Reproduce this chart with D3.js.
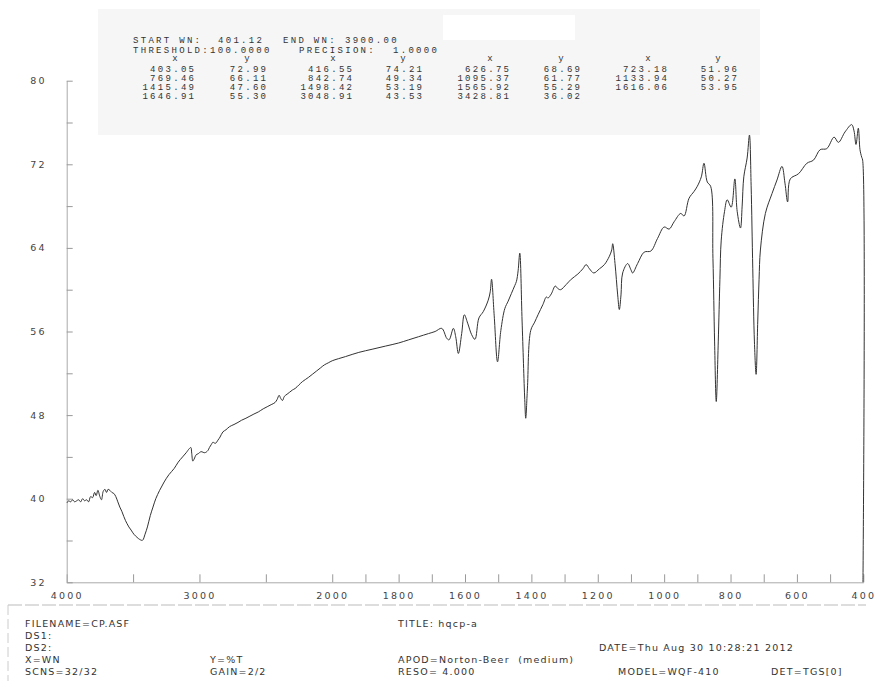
<!DOCTYPE html>
<html>
<head>
<meta charset="utf-8">
<script src="https://cdn.jsdelivr.net/npm/d3@7"></script>
<style>
  body { margin: 0; background: #fff; }
  text { white-space: pre; }
</style>
</head>
<body>
<div id="chart"></div>
<script>
// spectrum (wavenumber cm-1, %T)
const wavenumbers = [3998, 3985, 3970, 3955, 3940, 3925, 3910, 3895, 3880, 3865, 3850, 3835, 3820, 3805, 3790, 3778, 3765, 3750, 3738, 3725, 3712, 3700, 3688, 3675, 3660, 3645, 3630, 3615, 3600, 3585, 3570, 3557, 3545, 3532, 3515, 3494, 3470, 3450, 3429, 3410, 3392, 3370, 3350, 3329, 3300, 3266, 3230, 3190, 3160, 3127, 3100, 3076, 3065, 3058, 3050, 3040, 3025, 3010, 2988, 2960, 2937, 2925, 2910, 2899, 2880, 2861, 2845, 2823, 2800, 2773, 2740, 2710, 2684, 2650, 2620, 2590, 2557, 2520, 2490, 2460, 2431, 2415, 2400, 2388, 2375, 2360, 2340, 2320, 2300, 2279, 2250, 2225, 2203, 2180, 2150, 2120, 2090, 2060, 2030, 2000, 1960, 1920, 1880, 1840, 1800, 1770, 1740, 1710, 1690, 1670, 1655, 1648, 1635, 1628, 1620, 1610, 1602, 1592, 1580, 1570, 1558, 1545, 1530, 1524, 1520, 1512, 1502, 1492, 1480, 1470, 1460, 1450, 1445, 1440, 1435, 1428, 1420, 1417, 1412, 1402, 1390, 1380, 1365, 1355, 1350, 1340, 1328, 1320, 1312, 1295, 1280, 1260, 1245, 1235, 1225, 1212, 1195, 1180, 1165, 1158, 1155, 1148, 1140, 1135, 1130, 1125, 1110, 1100, 1095, 1080, 1060, 1040, 1020, 1000, 985, 970, 950, 940, 925, 910, 900, 888, 880, 870, 860, 853, 848, 843, 837, 832, 828, 818, 810, 798, 787, 780, 770, 765, 760, 750, 743, 738, 733, 728, 723, 718, 714, 710, 695, 675, 660, 645, 636, 628, 620, 595, 570, 550, 530, 510, 488, 475, 455, 435, 428, 422, 415, 410, 405, 402, 401];
const transmittance = [39.6, 39.8, 39.7, 39.9, 39.7, 39.8, 39.9, 39.7, 40.0, 39.8, 39.9, 39.7, 40.2, 40.1, 40.6, 40.3, 40.8, 40.2, 39.9, 40.7, 40.9, 40.6, 40.9, 40.8, 40.6, 40.5, 40.2, 39.7, 39.2, 38.8, 38.3, 37.9, 37.6, 37.3, 37.0, 36.6, 36.3, 36.1, 36.02, 36.6, 37.3, 38.4, 39.2, 40.0, 40.8, 41.6, 42.3, 42.9, 43.5, 44.0, 44.4, 44.8, 44.9, 44.3, 43.6, 43.8, 44.2, 44.3, 44.5, 44.4, 44.6, 44.9, 45.2, 45.4, 45.3, 45.6, 45.9, 46.4, 46.6, 46.9, 47.1, 47.3, 47.5, 47.7, 47.9, 48.1, 48.3, 48.6, 48.8, 49.0, 49.2, 49.5, 49.9, 49.6, 49.4, 49.8, 50.0, 50.2, 50.4, 50.55, 50.9, 51.2, 51.4, 51.6, 51.9, 52.2, 52.5, 52.8, 53.0, 53.2, 53.6, 54.0, 54.3, 54.6, 54.9, 55.2, 55.5, 55.8, 56.0, 56.3, 55.35, 55.2, 56.3, 55.5, 53.9, 55.8, 57.6, 56.8, 55.7, 55.25, 57.3, 57.9, 59.0, 59.8, 61.0, 57.5, 53.1, 56.1, 58.2, 58.9, 59.65, 60.4, 60.8, 61.8, 63.5, 57.0, 49.5, 47.7, 50.5, 56.1, 56.9, 57.6, 58.6, 59.3, 59.2, 59.6, 60.35, 60.1, 60.0, 60.5, 61.0, 61.5, 62.0, 62.4, 62.0, 61.6, 62.0, 62.4, 63.2, 63.8, 64.4, 62.5, 59.5, 58.1, 59.5, 61.6, 62.5, 61.9, 61.6, 62.5, 63.6, 63.7, 64.9, 66.0, 65.8, 66.5, 67.3, 67.05, 68.75, 69.4, 69.9, 70.8, 72.1, 70.3, 69.9, 63.0, 55.0, 49.3, 55.0, 61.0, 64.75, 67.5, 68.6, 67.9, 70.6, 67.5, 65.9, 68.0, 70.8, 72.6, 74.8, 70.0, 62.0, 55.0, 51.9, 57.0, 61.0, 63.8, 67.3, 69.2, 70.5, 71.8, 70.2, 68.4, 70.6, 71.1, 72.1, 72.4, 73.4, 73.5, 74.6, 74.1, 75.1, 75.8, 75.2, 73.9, 75.45, 73.4, 72.7, 72.4, 32.0];

// axis ticks
const xTicks = [4000, 3500, 3000, 2500, 2000, 1900, 1800, 1700, 1600, 1500, 1400, 1300, 1200, 1100, 1000, 900, 800, 700, 600, 500, 400];
const xLabels = [4000, 3000, 2000, 1800, 1600, 1400, 1200, 1000, 800, 600, 400];
const yTicks = [32, 36, 40, 44, 48, 52, 56, 60, 64, 68, 72, 76, 80];
const yLabels = [32, 40, 48, 56, 64, 72, 80];

// peak table printed on the sheet
const peakX = ["403.05", "416.55", "626.75", "723.18", "769.46", "842.74", "1095.37", "1133.94", "1415.49", "1498.42", "1565.92", "1616.06", "1646.91", "3048.91", "3428.81"];
const peakY = ["72.99", "74.21", "68.69", "51.96", "66.11", "49.34", "61.77", "50.27", "47.60", "53.19", "55.29", "53.95", "55.30", "43.53", "36.02"];

// footer lines
const footerLeft = ["FILENAME=CP.ASF", "DS1:", "DS2:", "X=WN", "SCNS=32/32"];
const footerMid = ["Y=%T", "GAIN=2/2"];
const footerRight = ["TITLE: hqcp-a", "APOD=Norton-Beer  (medium)", "RESO= 4.000"];

(function spectrum(){

  const width = 876, height = 681;
  const left = 66.7, right = 863.3, top = 80.7, bottom = 582.3;

  const svg = d3.select("#chart")
    .append("svg")
    .attr("width", width)
    .attr("height", height);

  // wavenumber axis is compressed above 2000
  const x = d3.scaleLinear()
    .domain([4000, 2000, 400])
    .range([left, left + (right - left) / 3, right]);

  const y = d3.scaleLinear()
    .domain([32, 80])
    .range([bottom, top]);

  // header table background
  svg.append("rect")
    .attr("x", 98).attr("y", 9)
    .attr("width", 662).attr("height", 126)
    .attr("fill", "#f6f6f6");
  svg.append("rect")
    .attr("x", 443).attr("y", 15)
    .attr("width", 132).attr("height", 25)
    .attr("fill", "#fff");

  const head = svg.append("g")
    .attr("font-family", "Liberation Mono, monospace")
    .attr("font-size", 9)
    .attr("letter-spacing", 2.3)
    .attr("fill", "#333");

  head.append("text").attr("x", 133).attr("y", 42.5).text("START WN:");
  head.append("text").attr("x", 218).attr("y", 42.5).text("401.12");
  head.append("text").attr("x", 283).attr("y", 42.5).text("END WN:");
  head.append("text").attr("x", 345).attr("y", 42.5).text("3900.00");
  head.append("text").attr("x", 133).attr("y", 52.5).text("THRESHOLD:100.0000");
  head.append("text").attr("x", 299).attr("y", 52.5).text("PRECISION:");
  head.append("text").attr("x", 393).attr("y", 52.5).text("1.0000");

  const colRight = [194, 266, 352, 422, 509, 580, 667, 737];

  head.selectAll("text.hdr")
    .data(colRight)
    .join("text")
    .attr("class", "hdr")
    .attr("x", d => d - 18)
    .attr("y", 61)
    .attr("text-anchor", "middle")
    .text((d, i) => i % 2 ? "y" : "x");

  const cells = [];
  peakX.forEach((px, i) => {
    const row = Math.floor(i / 4), col = i % 4;
    cells.push({ text: px, c: col * 2, row });
    cells.push({ text: peakY[i], c: col * 2 + 1, row });
  });

  head.selectAll("text.cell")
    .data(cells)
    .join("text")
    .attr("class", "cell")
    .attr("x", d => colRight[d.c] + 2.3)
    .attr("y", d => 71.5 + d.row * 9)
    .attr("text-anchor", "end")
    .text(d => d.text);

  // axes
  const xAxis = d3.axisBottom(x)
    .tickValues(xTicks)
    .tickSize(-8)
    .tickSizeOuter(0)
    .tickPadding(10)
    .tickFormat(d => xLabels.includes(d) ? d : "");

  const gx = svg.append("g")
    .attr("transform", `translate(0,${bottom})`)
    .call(xAxis);

  const yAxis = d3.axisLeft(y)
    .tickValues(yTicks)
    .tickSize(-6)
    .tickSizeOuter(0)
    .tickPadding(20)
    .tickFormat(d => yLabels.includes(d) ? d : "");

  const gy = svg.append("g")
    .attr("transform", `translate(${left},0)`)
    .call(yAxis);

  [gx, gy].forEach(g => {
    g.select(".domain").attr("stroke", "#aaa").attr("stroke-width", 1);
    g.selectAll(".tick line").attr("stroke", "#999");
    g.selectAll("text")
      .attr("fill", "#444")
      .attr("font-family", "DejaVu Sans, sans-serif")
      .attr("font-size", 9.5)
      .attr("letter-spacing", 2.2);
  });

  // the trace
  const points = wavenumbers.map((w, i) => [w, transmittance[i]]);

  svg.append("path")
    .datum(points)
    .attr("fill", "none")
    .attr("stroke", "#333")
    .attr("stroke-width", 1)
    .attr("stroke-linejoin", "round")
    .attr("d", d3.line()
      .x(d => x(d[0]))
      .y(d => y(d[1]))
      .curve(d3.curveCatmullRom.alpha(0.5)));

  // footer
  svg.append("line")
    .attr("x1", 8).attr("x2", 866)
    .attr("y1", 605).attr("y2", 605)
    .attr("stroke", "#bbb")
    .attr("stroke-dasharray", "14 3");
  svg.append("line")
    .attr("x1", 8).attr("x2", 8)
    .attr("y1", 605).attr("y2", 681)
    .attr("stroke", "#ccc")
    .attr("stroke-dasharray", "10 4");

  const foot = svg.append("g")
    .attr("font-family", "DejaVu Sans, sans-serif")
    .attr("font-size", 9.5)
    .attr("letter-spacing", 1.2)
    .attr("fill", "#333");

  const rows = [627, 639, 651, 663, 675];

  foot.selectAll("text.l")
    .data(footerLeft)
    .join("text")
    .attr("class", "l")
    .attr("x", 25)
    .attr("y", (d, i) => rows[i])
    .text(d => d);

  foot.selectAll("text.m")
    .data(footerMid)
    .join("text")
    .attr("class", "m")
    .attr("x", 210)
    .attr("y", (d, i) => rows[i + 3])
    .text(d => d);

  foot.selectAll("text.r")
    .data(footerRight)
    .join("text")
    .attr("class", "r")
    .attr("x", 398)
    .attr("y", (d, i) => rows[[0, 3, 4][i]])
    .text(d => d);

  foot.append("text").attr("x", 599).attr("y", rows[2]).text("DATE=Thu Aug 30 10:28:21 2012");
  foot.append("text").attr("x", 618).attr("y", rows[4]).text("MODEL=WQF-410");
  foot.append("text").attr("x", 771).attr("y", rows[4]).text("DET=TGS[0]");

})();
</script>
</body>
</html>
